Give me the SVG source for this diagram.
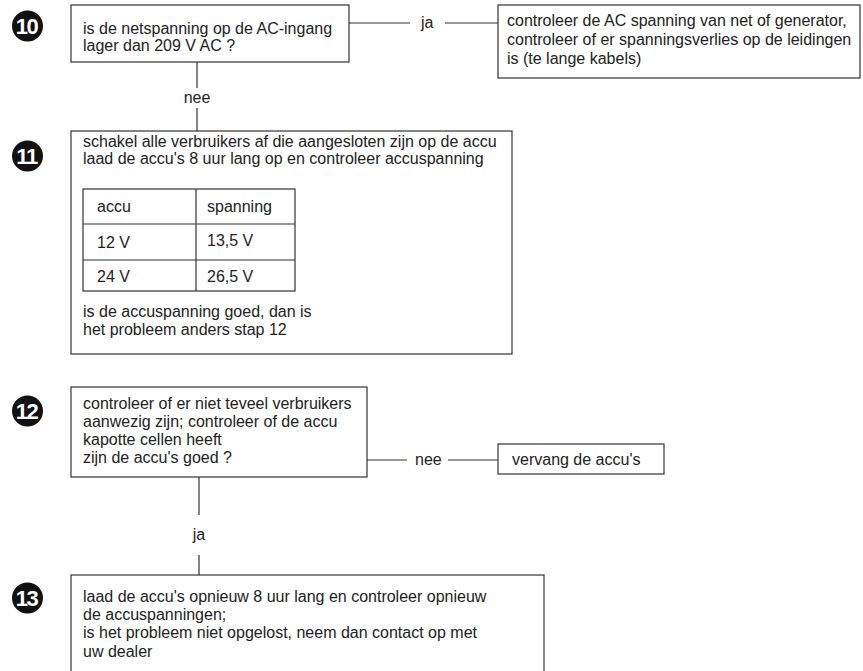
<svg xmlns="http://www.w3.org/2000/svg" width="863" height="671" viewBox="0 0 863 671">
<style>
.box{fill:#fff;stroke:#333;stroke-width:1.2}
.ln{fill:none;stroke:#333;stroke-width:1.2}
.t{font-family:"Liberation Sans",Arial,sans-serif;font-size:16px;fill:#222}
.num{font-family:"Liberation Sans",Arial,sans-serif;font-size:22px;font-weight:bold;fill:#fff;text-anchor:middle;letter-spacing:-1.5px}
.dot{fill:#111}
</style>
<rect width="863" height="671" fill="#fff"/>
<g id="connectors">
<line class="ln" x1="349" y1="23" x2="410" y2="23"/>
<text class="t" x="421" y="28">ja</text>
<line class="ln" x1="445" y1="23" x2="498" y2="23"/>
<line class="ln" x1="197" y1="62" x2="197" y2="88"/>
<text class="t" x="197" y="103" text-anchor="middle">nee</text>
<line class="ln" x1="197" y1="108" x2="197" y2="131"/>
<line class="ln" x1="367" y1="460" x2="407" y2="460"/>
<text class="t" x="415" y="465">nee</text>
<line class="ln" x1="448" y1="460" x2="498" y2="460"/>
<line class="ln" x1="199" y1="477" x2="199" y2="515"/>
<text class="t" x="199" y="540" text-anchor="middle">ja</text>
<line class="ln" x1="199" y1="555" x2="199" y2="575"/>
</g>
<g id="step10">
<circle class="dot" cx="27.5" cy="26" r="15.5"/>
<text class="num" x="26.5" y="34">10</text>
<rect class="box" x="71" y="5" width="278" height="57"/>
<text class="t" x="83" y="34">is de netspanning op de AC-ingang</text>
<text class="t" x="83" y="51">lager dan 209 V AC ?</text>
</g>
<g id="ac-check">
<rect class="box" x="498" y="5" width="362" height="73"/>
<text class="t" x="507" y="26">controleer de AC spanning van net of generator,</text>
<text class="t" x="507" y="45">controleer of er spanningsverlies op de leidingen</text>
<text class="t" x="507" y="64">is (te lange kabels)</text>
</g>
<g id="step11">
<circle class="dot" cx="27.5" cy="156" r="15.5"/>
<text class="num" x="26.5" y="164">11</text>
<rect class="box" x="71" y="131" width="441" height="223"/>
<text class="t" x="83" y="147">schakel alle verbruikers af die aangesloten zijn op de accu</text>
<text class="t" x="83" y="164">laad de accu's 8 uur lang op en controleer accuspanning</text>
<rect class="ln" x="83" y="189" width="212" height="102"/>
<line class="ln" x1="196" y1="189" x2="196" y2="291"/>
<line class="ln" x1="83" y1="224" x2="295" y2="224"/>
<line class="ln" x1="83" y1="260" x2="295" y2="260"/>
<text class="t" x="97" y="212">accu</text>
<text class="t" x="207" y="212">spanning</text>
<text class="t" x="97" y="248">12 V</text>
<text class="t" x="207" y="246">13,5 V</text>
<text class="t" x="97" y="282">24 V</text>
<text class="t" x="207" y="282">26,5 V</text>
<text class="t" x="83" y="317">is de accuspanning goed, dan is</text>
<text class="t" x="83" y="335">het probleem anders stap 12</text>
</g>
<g id="step12">
<circle class="dot" cx="27.5" cy="411" r="15.5"/>
<text class="num" x="26.5" y="419">12</text>
<rect class="box" x="71" y="387" width="296" height="90"/>
<text class="t" x="83" y="409">controleer of er niet teveel verbruikers</text>
<text class="t" x="83" y="427">aanwezig zijn; controleer of de accu</text>
<text class="t" x="83" y="445">kapotte cellen heeft</text>
<text class="t" x="83" y="463">zijn de accu's goed ?</text>
</g>
<g id="replace">
<rect class="box" x="498" y="444" width="166" height="30"/>
<text class="t" x="512" y="465">vervang de accu's</text>
</g>
<g id="step13">
<circle class="dot" cx="27.5" cy="598" r="15.5"/>
<text class="num" x="26.5" y="606">13</text>
<rect class="box" x="71" y="575" width="473" height="110"/>
<text class="t" x="83" y="602">laad de accu's opnieuw 8 uur lang en controleer opnieuw</text>
<text class="t" x="83" y="620">de accuspanningen;</text>
<text class="t" x="83" y="638">is het probleem niet opgelost, neem dan contact op met</text>
<text class="t" x="83" y="657">uw dealer</text>
</g>
</svg>
